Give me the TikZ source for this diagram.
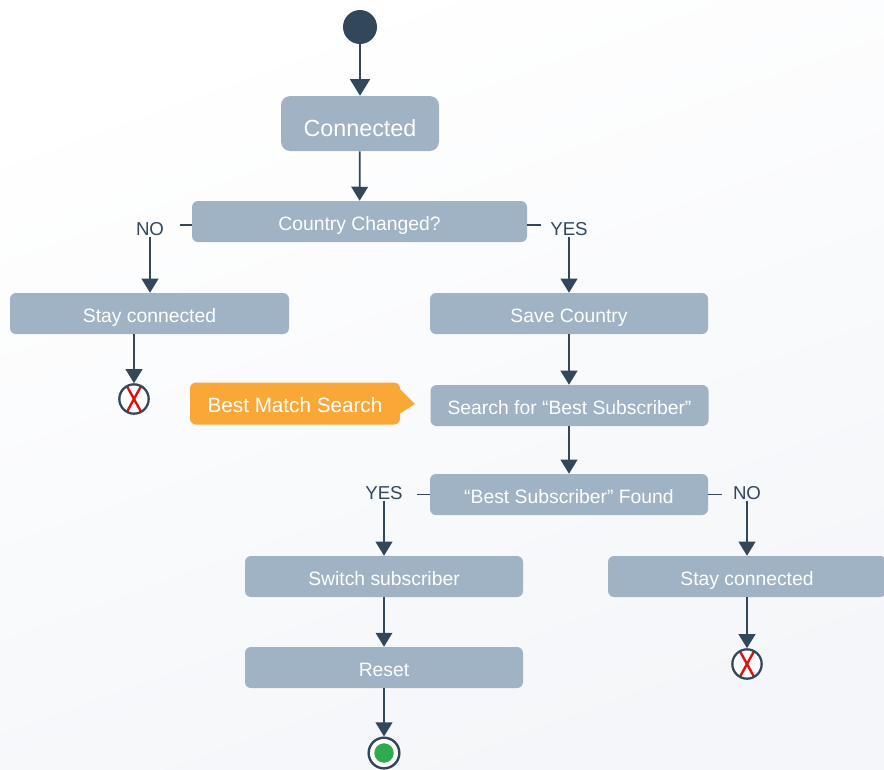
\documentclass[tikz,border=0pt]{standalone}
\usepackage{fontspec}
\setmainfont{Liberation Sans}
\usetikzlibrary{arrows.meta,shapes.geometric}
\definecolor{boxblue}{HTML}{9FB3C4}
\definecolor{darkline}{HTML}{33475B}
\definecolor{orangecall}{HTML}{F9A837}
\definecolor{endgreen}{HTML}{2EAA4F}
\definecolor{xred}{HTML}{E01010}
\definecolor{bgcorner}{HTML}{F4F6F9}
\tikzset{
  stepbox/.style={rectangle, rounded corners=4.5pt, fill=boxblue, text=white,
    minimum width=208.5pt, minimum height=30.75pt, inner sep=0pt,
    text height=13.6pt, text depth=0pt,
    font=\fontsize{14.5}{16}\selectfont},
  lbl/.style={text=darkline, inner sep=1pt, font=\fontsize{14}{16}\selectfont},
  conn/.style={draw=darkline, line width=1.3pt, -{Triangle[length=10.5pt,width=12.5pt]}},
  plainline/.style={draw=darkline, line width=1.1pt},
  xcircle/.style={circle, draw=darkline, line width=1.7pt, fill=white, minimum size=22pt, inner sep=0pt,
    path picture={\draw[xred, line width=1.8pt] (-5.5pt,10pt) -- (5.5pt,-10pt) (5.5pt,10pt) -- (-5.5pt,-10pt);}},
}
\begin{document}
\begin{tikzpicture}[x=0.75pt,y=-0.75pt]
\useasboundingbox (0,0) rectangle (884,769);
\shade[shading=axis, top color=white, middle color=white, bottom color=bgcorner, shading angle=20] (0,0) rectangle (884,769);

% start
\node[circle, fill=darkline, minimum size=25.5pt, inner sep=0pt] (start) at (360,27) {};
\node[stepbox, minimum width=118.5pt, minimum height=41.25pt, rounded corners=7pt,
      text height=19pt, font=\fontsize{17.5}{20}\selectfont] (connected) at (360,123.5) {Connected};
\node[stepbox, minimum width=251.25pt] (cc) at (359.5,221.5) {Country Changed?};
\node[lbl] (noA) at (150,229) {NO};
\node[lbl] (yesA) at (569,229) {YES};
\node[stepbox, minimum width=209.25pt] (stayL) at (149.5,313.5) {Stay connected};
\node[stepbox] (save) at (569,313.5) {Save Country};
\node[xcircle] (xL) at (134,399) {};
\node[stepbox] (search) at (569.5,405.5) {Search for “Best Subscriber”};
\node[rectangle, rounded corners=4.5pt, fill=orangecall, text=white, minimum width=157.5pt,
      minimum height=31.5pt, inner sep=0pt, text height=14.2pt, text depth=0pt,
      font=\fontsize{15.5}{17}\selectfont] (bms) at (295,403.5) {Best Match Search\hspace{6pt}};
\coordinate (bmstip) at (415,404);
\fill[orangecall] (399,388) -- (bmstip) -- (399,414) -- cycle;
\node[stepbox] (found) at (569,494.5) {“Best Subscriber” Found};
\node[lbl] (yesB) at (384,493) {YES};
\node[lbl] (noB) at (747,493) {NO};
\node[stepbox] (switch) at (384,576.5) {Switch subscriber};
\node[stepbox] (stayR) at (747,576.5) {Stay connected};
\node[stepbox] (reset) at (384,667.5) {Reset};
\node[xcircle] (xR) at (747,664) {};
\node[circle, draw=darkline, line width=1.8pt, fill=white, minimum size=23pt, inner sep=0pt,
      path picture={\fill[endgreen] (0,0) circle (7.3pt);}] (finish) at (384,753) {};

% connectors
\draw[conn, -{Triangle[length=12.5pt,width=15pt]}] (start) -- (connected);
\draw[conn] (connected) -- (cc);
\draw[plainline] ([yshift=-2.6pt]cc.west) -- ++(-12,0);
\draw[plainline] ([yshift=-2.6pt]cc.east) -- ++(14,0);
\draw[conn] (noA.south) -- (noA.south |- stayL.north);
\draw[conn] (yesA.south) -- (save.north);
\draw[conn] (xL.north |- stayL.south) -- (xL);
\draw[conn] (save.south) -- (save.south |- search.north);
\draw[conn] (found.north |- search.south) -- (found.north);
\draw[plainline] (found.west) -- ++(-13,0);
\draw[plainline] (found.east) -- ++(14,0);
\draw[conn] (yesB.south) -- (switch.north);
\draw[conn] (noB.south) -- (stayR.north);
\draw[conn] (switch) -- (reset);
\draw[conn] (reset) -- (finish);
\draw[conn] (stayR) -- (xR);
\end{tikzpicture}
\end{document}
